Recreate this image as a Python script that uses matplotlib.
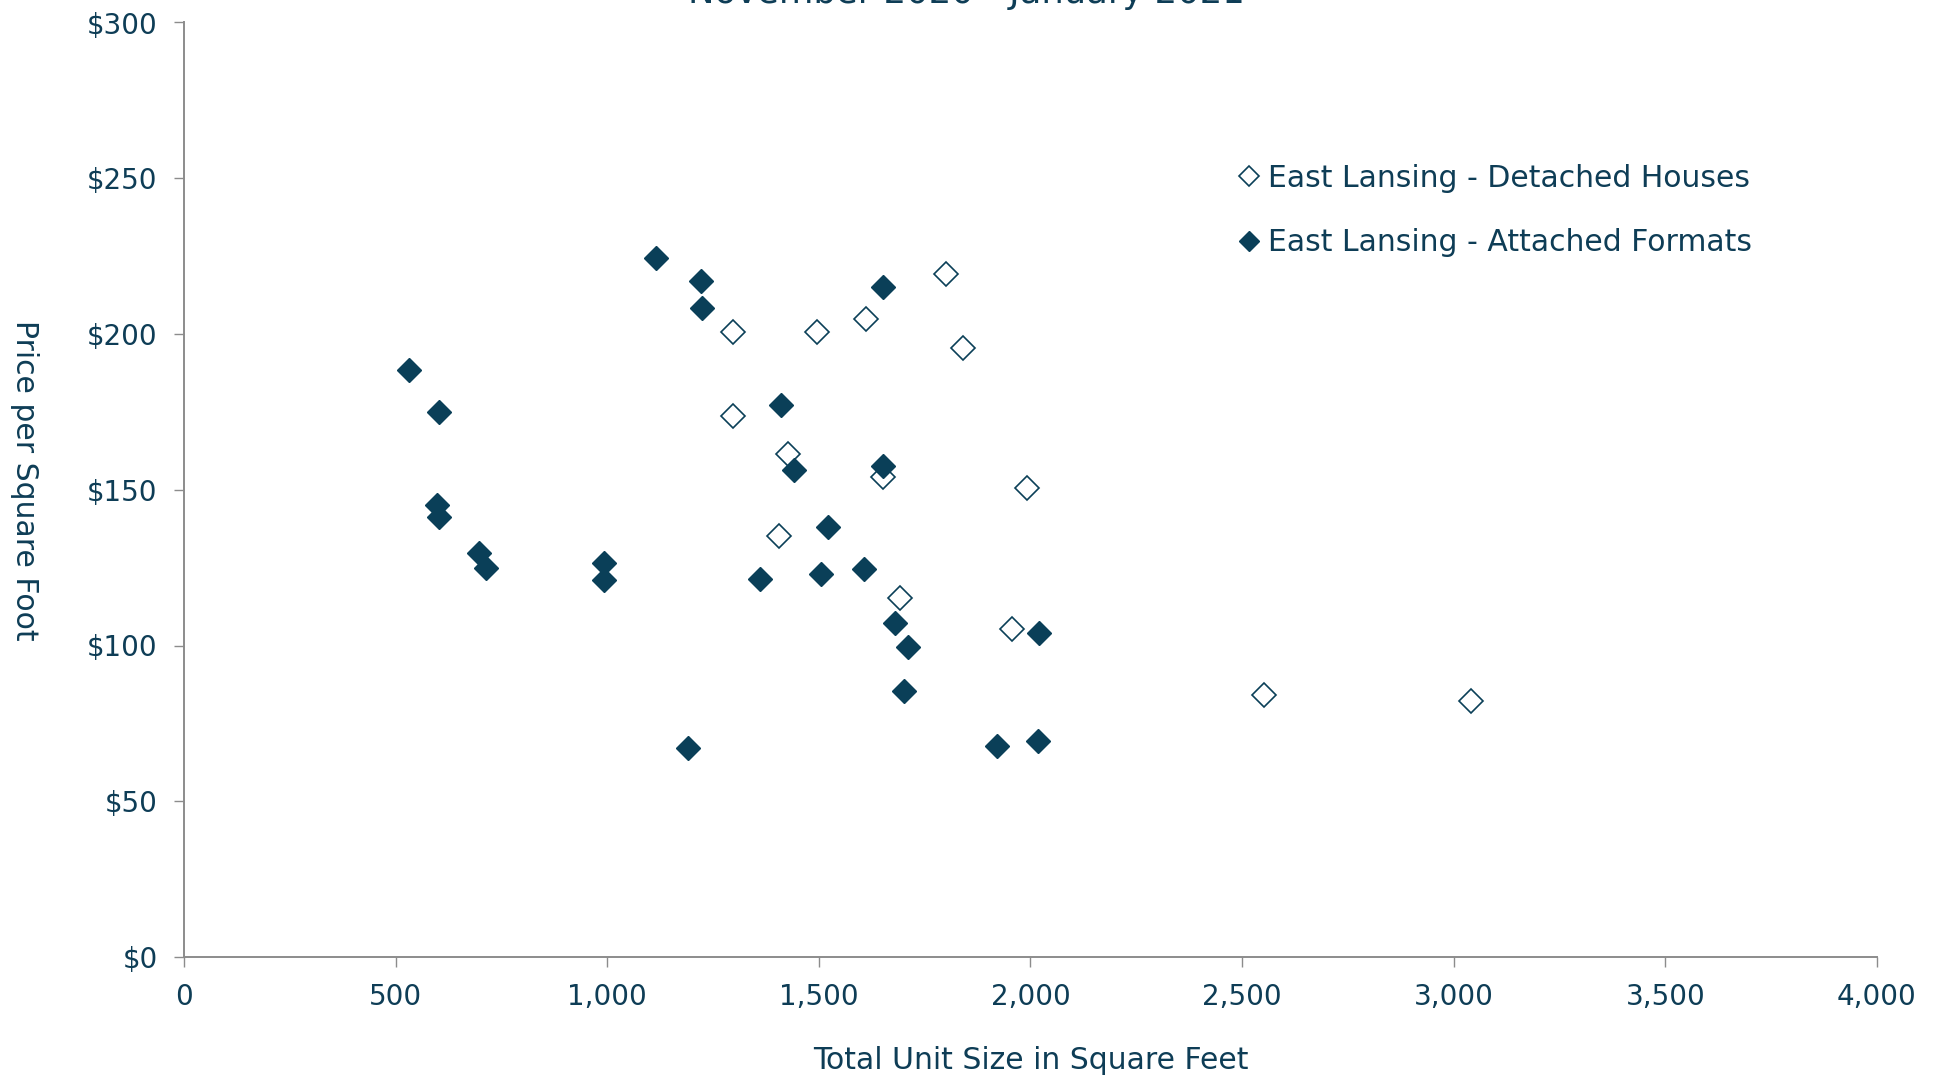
import matplotlib
matplotlib.use("Agg")
import matplotlib.pyplot as plt
from matplotlib.ticker import FuncFormatter, MultipleLocator

# ---- data ----
detached_size = [1296, 1296, 1496, 1611, 1801, 1841, 1427, 1651, 1406, 1992, 1691, 1956, 2551, 3041]
detached_price = [200.6, 173.7, 200.5, 204.9, 219.3, 195.5, 161.6, 154.0, 135.2, 150.6, 115.4, 105.4, 84.2, 82.3]

attached_size = [532, 602, 598, 602, 697, 713, 992, 992, 1115, 1222, 1225, 1191,
                 1362, 1411, 1442, 1521, 1506, 1606, 1651, 1651, 1681, 1711, 1701,
                 1921, 2017, 2021]
attached_price = [188.5, 174.9, 145.1, 141.3, 129.6, 125.0, 126.4, 121.0, 224.5, 217.1, 208.2, 67.2,
                  121.3, 177.2, 156.2, 138.1, 122.9, 124.7, 215.0, 157.7, 107.2, 99.5, 85.3,
                  67.7, 69.5, 103.9]

series_labels = ["East Lansing - Detached Houses", "East Lansing - Attached Formats"]
title_text = "November 2020 - January 2021"
x_label = "Total Unit Size in Square Feet"
y_label = "Price per Square Foot"

# ---- style ----
TXT = "#0E3D56"
MK = "#0A3F58"
SPINE = "#8C8C8C"
plt.rcParams['font.family'] = ['DejaVu Sans']

W, H = 1940, 1081
fig = plt.figure(figsize=(W / 100, H / 100), dpi=100)
ax = fig.add_axes([184 / W, 1 - 957 / H, (1877 - 184) / W, (957 - 22.5) / H])

ax.plot(detached_size, detached_price, linestyle="none", marker="D", ms=12.5,
        markerfacecolor="white", markeredgecolor=MK, markeredgewidth=1.2,
        label=series_labels[0], zorder=3)
ax.plot(attached_size, attached_price, linestyle="none", marker="D", ms=12.5,
        markerfacecolor=MK, markeredgecolor=MK, markeredgewidth=1.0,
        label=series_labels[1], zorder=4)

ax.set_xlim(0, 4000)
ax.set_ylim(0, 300)
ax.xaxis.set_major_locator(MultipleLocator(500))
ax.yaxis.set_major_locator(MultipleLocator(50))
ax.xaxis.set_major_formatter(FuncFormatter(lambda v, p: f"{int(v):,}"))
ax.yaxis.set_major_formatter(FuncFormatter(lambda v, p: f"${int(v)}"))

for s in ["top", "right"]:
    ax.spines[s].set_visible(False)
for s in ["left", "bottom"]:
    ax.spines[s].set_color(SPINE)
    ax.spines[s].set_linewidth(1.4)

ax.tick_params(axis="both", direction="out", length=7, width=1.0, color=SPINE,
               labelsize=20, labelcolor=TXT, pad=12)

ax.set_xlabel(x_label, fontsize=21.5, color=TXT)
ax.set_ylabel(y_label, fontsize=21.5, color=TXT, rotation=270, va="center")
ax.xaxis.set_label_coords(0.5, -0.111)
ax.xaxis.label.set_verticalalignment("center")
ax.yaxis.set_label_coords(-0.094, 0.51)

fig.text(0.498, 1 - 3.5 / H, title_text, ha="center", va="baseline",
         fontsize=25.5, color=TXT)

leg = ax.legend(loc="upper left", bbox_to_anchor=(0.624, 0.849), frameon=False,
                fontsize=21.5, handlelength=0.6, handletextpad=0.33,
                borderaxespad=0, borderpad=0, labelspacing=1.19, markerscale=0.81)
for t in leg.get_texts():
    t.set_color(TXT)

fig.savefig("out.png", dpi=100)
